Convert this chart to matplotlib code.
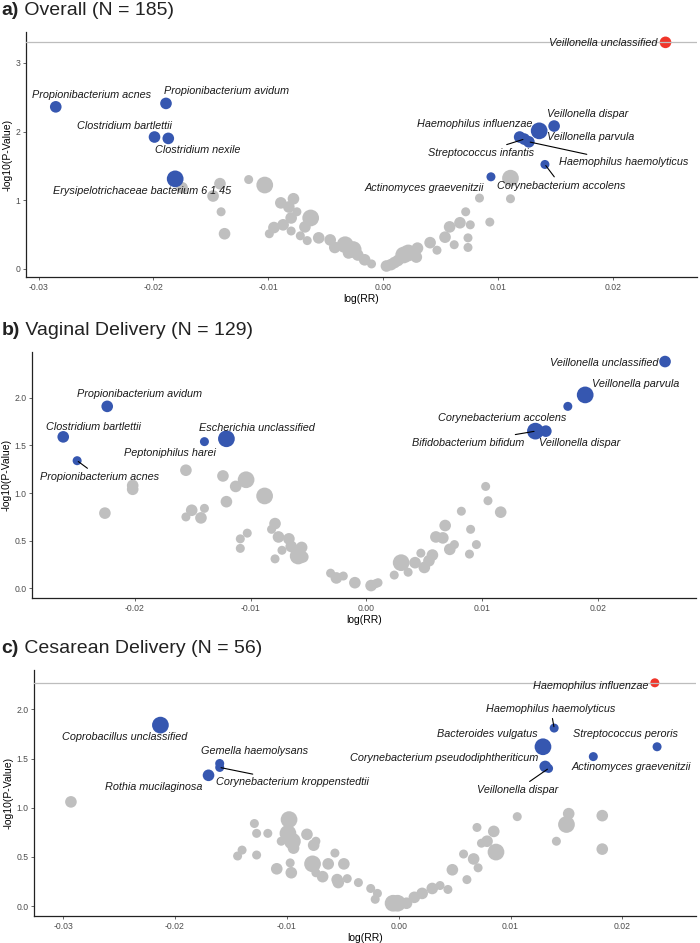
import matplotlib
matplotlib.use('Agg')
import matplotlib.pyplot as plt
from matplotlib.ticker import FormatStrFormatter

plt.rcParams['font.family'] = ['Liberation Sans', 'DejaVu Sans']

# ---- a) Overall ----
a_gray_x = [-0.0175, -0.0142, -0.0148, -0.0117, -0.0103, -0.0141, -0.0138, -0.0089, -0.0078, -0.0082,
            -0.0075, -0.0080, -0.0063, -0.0068, -0.0087, -0.0095, -0.0099, -0.0080, -0.0072, -0.0066,
            -0.0056, -0.0046, -0.0033, -0.0042, -0.0030, -0.0022, -0.0016, -0.0010, 0.0007, 0.0010,
            0.0022, 0.0029, 0.0030, 0.0041, 0.0047, 0.0054, 0.0058, 0.0067, 0.0062, 0.0072,
            0.0076, 0.0074, 0.0074, 0.0084, 0.0093, 0.0111, 0.0111, -0.0026, 0.0013, 0.0018, 0.0003]
a_gray_y = [1.18, 1.24, 1.06, 1.30, 1.22, 0.83, 0.51, 0.96, 1.02, 0.90,
            0.83, 0.74, 0.74, 0.61, 0.64, 0.60, 0.51, 0.55, 0.48, 0.41,
            0.45, 0.42, 0.35, 0.31, 0.23, 0.20, 0.13, 0.07, 0.06, 0.09,
            0.23, 0.17, 0.30, 0.38, 0.27, 0.46, 0.61, 0.67, 0.35, 0.83,
            0.64, 0.45, 0.31, 1.03, 0.68, 1.32, 1.02, 0.28, 0.12, 0.20, 0.04]
a_gray_n = [2, 2, 2, 1, 3, 1, 2, 2, 2, 2,
            1, 2, 3, 2, 2, 2, 1, 1, 1, 1,
            2, 2, 3, 2, 2, 2, 2, 1, 2, 2,
            3, 2, 2, 2, 1, 2, 2, 2, 1, 1,
            1, 1, 1, 1, 1, 3, 1, 3, 2, 3, 2]
a_names = ['Propionibacterium acnes', 'Propionibacterium avidum', 'Clostridium bartlettii',
           'Clostridium nexile', 'Erysipelotrichaceae bacterium 6 1 45', 'Veillonella unclassified',
           'Veillonella dispar', 'Veillonella parvula', 'Haemophilus influenzae',
           'Streptococcus infantis', 'Haemophilus haemolyticus', 'Corynebacterium accolens',
           'Actinomyces graevenitzii']
a_x = [-0.0285, -0.0189, -0.0199, -0.0187, -0.0181, 0.0246, 0.0149, 0.0136, 0.0119, 0.0123, 0.0127, 0.0141, 0.0094]
a_y = [2.36, 2.41, 1.92, 1.90, 1.31, 3.30, 2.08, 2.01, 1.92, 1.89, 1.85, 1.52, 1.34]
a_n = [2, 2, 2, 2, 3, 2, 2, 3, 2, 2, 2, 1, 1]
a_fdr = ['Veillonella unclassified']
a_thresh = 3.30

# ---- b) Vaginal delivery ----
b_gray_x = [-0.0202, -0.0202, -0.0226, -0.0156, -0.0124, -0.0104, -0.0113, -0.0088, -0.0121, -0.0151,
            -0.0140, -0.0156, -0.0143, -0.0079, -0.0082, -0.0103, -0.0109, -0.0109, -0.0076, -0.0067,
            -0.0065, -0.0056, -0.0073, -0.0059, -0.0055, -0.0079, -0.0031, -0.0026, -0.0020, -0.0010,
            0.0004, 0.0008, 0.0010, 0.0024, 0.0030, 0.0036, 0.0042, 0.0047, 0.0050, 0.0054,
            0.0057, 0.0060, 0.0066, 0.0068, 0.0072, 0.0076, 0.0082, 0.0090, 0.0095, 0.0089,
            0.0103, 0.0105, 0.0116]
b_gray_y = [1.08, 1.04, 0.79, 1.24, 1.18, 1.14, 1.07, 0.97, 0.91, 0.82,
            0.84, 0.75, 0.74, 0.68, 0.62, 0.58, 0.52, 0.42, 0.54, 0.52,
            0.44, 0.43, 0.40, 0.34, 0.33, 0.31, 0.16, 0.11, 0.13, 0.06,
            0.03, 0.05, 0.06, 0.14, 0.27, 0.17, 0.27, 0.37, 0.22, 0.29,
            0.35, 0.54, 0.53, 0.66, 0.41, 0.46, 0.81, 0.62, 0.46, 0.36,
            1.07, 0.92, 0.80]
b_gray_n = [2, 2, 2, 2, 2, 3, 2, 3, 2, 2,
            1, 1, 2, 2, 1, 1, 1, 1, 2, 2,
            2, 2, 1, 3, 2, 1, 1, 2, 1, 2,
            2, 1, 1, 1, 3, 1, 2, 1, 2, 2,
            2, 2, 2, 2, 2, 1, 1, 1, 1, 1,
            1, 1, 2]
b_names = ['Propionibacterium avidum', 'Clostridium bartlettii', 'Propionibacterium acnes',
           'Peptoniphilus harei', 'Escherichia unclassified', 'Veillonella unclassified',
           'Veillonella parvula', 'Corynebacterium accolens', 'Bifidobacterium bifidum',
           'Veillonella dispar']
b_x = [-0.0224, -0.0262, -0.0250, -0.0140, -0.0121, 0.0258, 0.0189, 0.0174, 0.0146, 0.0155]
b_y = [1.91, 1.59, 1.34, 1.54, 1.57, 2.38, 2.03, 1.91, 1.65, 1.65]
b_n = [2, 2, 1, 1, 3, 2, 3, 1, 3, 2]
b_fdr = []

# ---- c) Cesarean delivery ----
c_gray_x = [-0.0293, -0.0129, -0.0127, -0.0117, -0.0098, -0.0099, -0.0095, -0.0094, -0.0105, -0.0082,
            -0.0074, -0.0076, -0.0140, -0.0144, -0.0127, -0.0109, -0.0097, -0.0096, -0.0077, -0.0074,
            -0.0068, -0.0063, -0.0057, -0.0049, -0.0055, -0.0054, -0.0046, -0.0036, -0.0025, -0.0019,
            -0.0021, -0.0005, -0.0001, 0.0007, 0.0014, 0.0021, 0.0030, 0.0037, 0.0044, 0.0048,
            0.0061, 0.0058, 0.0067, 0.0071, 0.0070, 0.0085, 0.0074, 0.0079, 0.0087, 0.0106,
            0.0141, 0.0150, 0.0152, 0.0182, 0.0182]
c_gray_y = [1.06, 0.84, 0.74, 0.74, 0.88, 0.74, 0.66, 0.59, 0.66, 0.73,
            0.66, 0.62, 0.57, 0.51, 0.52, 0.38, 0.44, 0.34, 0.43, 0.34,
            0.30, 0.43, 0.54, 0.43, 0.27, 0.24, 0.28, 0.24, 0.18, 0.13,
            0.07, 0.03, 0.03, 0.03, 0.09, 0.13, 0.18, 0.21, 0.17, 0.37,
            0.27, 0.53, 0.48, 0.39, 0.80, 0.76, 0.64, 0.66, 0.55, 0.91,
            0.66, 0.83, 0.94, 0.92, 0.58]
c_gray_n = [2, 1, 1, 1, 3, 3, 3, 2, 1, 2,
            1, 2, 1, 1, 1, 2, 1, 2, 3, 1,
            2, 2, 1, 2, 2, 2, 1, 1, 1, 1,
            1, 3, 3, 2, 2, 2, 2, 1, 1, 2,
            1, 1, 2, 1, 1, 2, 1, 2, 3, 1,
            1, 3, 2, 2, 2]
c_names = ['Coprobacillus unclassified', 'Gemella haemolysans', 'Corynebacterium kroppenstedtii',
           'Rothia mucilaginosa', 'Haemophilus influenzae', 'Haemophilus haemolyticus',
           'Bacteroides vulgatus', 'Streptococcus peroris', 'Actinomyces graevenitzii',
           'Corynebacterium pseudodiphtheriticum', 'Veillonella dispar']
c_x = [-0.0213, -0.0160, -0.0160, -0.0170, 0.0229, 0.0139, 0.0129, 0.0231, 0.0174, 0.0131, 0.0134]
c_y = [1.84, 1.45, 1.41, 1.33, 2.27, 1.81, 1.62, 1.62, 1.52, 1.42, 1.40]
c_n = [3, 1, 1, 2, 1, 1, 3, 1, 1, 2, 1]
c_fdr = ['Haemophilus influenzae']
c_thresh = 2.27

# label placement: name -> (x, y, ha, leader line)
a_lab = {
    'Propionibacterium acnes': (-0.0254, 2.53, 'center', False),
    'Propionibacterium avidum': (-0.0136, 2.59, 'center', False),
    'Clostridium bartlettii': (-0.0225, 2.08, 'center', False),
    'Clostridium nexile': (-0.0161, 1.73, 'center', False),
    'Erysipelotrichaceae bacterium 6 1 45': (-0.0210, 1.14, 'center', False),
    'Veillonella unclassified': (0.0239, 3.29, 'right', False),
    'Veillonella dispar': (0.0178, 2.26, 'center', False),
    'Haemophilus influenzae': (0.0080, 2.11, 'center', False),
    'Veillonella parvula': (0.0181, 1.92, 'center', False),
    'Streptococcus infantis': (0.0085, 1.69, 'center', True),
    'Haemophilus haemolyticus': (0.0210, 1.55, 'center', True),
    'Actinomyces graevenitzii': (0.0036, 1.18, 'center', False),
    'Corynebacterium accolens': (0.0155, 1.21, 'center', True),
}
b_lab = {
    'Propionibacterium avidum': (-0.0196, 2.04, 'center', False),
    'Clostridium bartlettii': (-0.0236, 1.69, 'center', False),
    'Escherichia unclassified': (-0.0095, 1.68, 'center', False),
    'Peptoniphilus harei': (-0.0170, 1.42, 'center', False),
    'Propionibacterium acnes': (-0.0231, 1.17, 'center', True),
    'Veillonella unclassified': (0.0252, 2.37, 'right', False),
    'Veillonella parvula': (0.0233, 2.14, 'center', False),
    'Corynebacterium accolens': (0.0117, 1.79, 'center', False),
    'Bifidobacterium bifidum': (0.0088, 1.53, 'center', True),
    'Veillonella dispar': (0.0184, 1.53, 'center', False),
}
c_lab = {
    'Coprobacillus unclassified': (-0.0245, 1.72, 'center', False),
    'Gemella haemolysans': (-0.0129, 1.58, 'center', False),
    'Corynebacterium kroppenstedtii': (-0.0095, 1.26, 'center', True),
    'Rothia mucilaginosa': (-0.0219, 1.21, 'center', False),
    'Haemophilus influenzae': (0.0172, 2.24, 'center', False),
    'Haemophilus haemolyticus': (0.0136, 2.00, 'center', True),
    'Bacteroides vulgatus': (0.0079, 1.75, 'center', False),
    'Streptococcus peroris': (0.0203, 1.75, 'center', False),
    'Corynebacterium pseudodiphtheriticum': (0.0041, 1.51, 'center', False),
    'Actinomyces graevenitzii': (0.0208, 1.41, 'center', False),
    'Veillonella dispar': (0.0106, 1.18, 'center', True),
}

GRAY = '#bfbfbf'
BLUE = '#3657b0'
RED = '#f0352a'
SIZES = {1: 42, 2: 70, 3: 145}

fig = plt.figure(figsize=(7, 9.43), dpi=100)


def panel(rect, letter, title, gx, gy, gn, names, sx, sy, sn, fdr, labels,
          xlim, ylim, xticks, yticks, yfmt, thresh=None):
    ax = fig.add_axes(rect)
    ax.scatter(gx, gy, s=[SIZES[k] for k in gn], color=GRAY, lw=0, zorder=2)
    cols = [RED if n in fdr else BLUE for n in names]
    ax.scatter(sx, sy, s=[SIZES[k] for k in sn], c=cols, lw=0, zorder=3)
    if thresh is not None:
        ax.axhline(thresh, color='#bdbdbd', lw=0.9, zorder=4)
    for n, x, y in zip(names, sx, sy):
        lx, ly, ha, line = labels[n]
        if line:
            ax.annotate(n, xy=(x, y), xytext=(lx, ly), ha=ha, va='center', fontsize=7.8,
                        style='italic', color='#1a1a1a', zorder=5,
                        arrowprops=dict(arrowstyle='-', color='black', lw=0.8,
                                        shrinkA=1, shrinkB=1))
        else:
            ax.text(lx, ly, n, ha=ha, va='center', fontsize=7.8, style='italic',
                    color='#1a1a1a', zorder=5)
    ax.set_xlim(*xlim)
    ax.set_ylim(*ylim)
    ax.set_xticks(xticks)
    ax.set_yticks(yticks)
    ax.xaxis.set_major_formatter(FormatStrFormatter('%.2f'))
    ax.yaxis.set_major_formatter(FormatStrFormatter(yfmt))
    ax.tick_params(labelsize=6.2, colors='#4d4d4d', length=2.5, width=0.6, pad=1.5)
    for s in ['top', 'right']:
        ax.spines[s].set_visible(False)
    for s in ['left', 'bottom']:
        ax.spines[s].set_linewidth(0.9)
        ax.spines[s].set_color('#222222')
    ax.set_xlabel('log(RR)', fontsize=7.5, labelpad=2)
    ax.set_ylabel('-log10(P-Value)', fontsize=7.5, labelpad=2)
    # title, bold letter then plain text
    top = rect[1] + rect[3]
    t = fig.text(0.002, top + 22 / 943, letter, fontsize=14, weight='bold', va='center',
                 color='#222222')
    ax.annotate(' ' + title, xy=(1, 0), xycoords=t, va='bottom', fontsize=14,
                color='#222222', annotation_clip=False)
    return ax


panel([0.037, 0.7063, 0.958, 0.2597], 'a)', 'Overall (N = 185)',
      a_gray_x, a_gray_y, a_gray_n, a_names, a_x, a_y, a_n, a_fdr, a_lab,
      (-0.0311, 0.0273), (-0.12, 3.45), [-0.03, -0.02, -0.01, 0.0, 0.01, 0.02],
      [0, 1, 2, 3], '%d', a_thresh)

panel([0.0457, 0.3659, 0.949, 0.2608], 'b)', 'Vaginal Delivery (N = 129)',
      b_gray_x, b_gray_y, b_gray_n, b_names, b_x, b_y, b_n, b_fdr, b_lab,
      (-0.0289, 0.0285), (-0.10, 2.48), [-0.02, -0.01, 0.0, 0.01, 0.02],
      [0.0, 0.5, 1.0, 1.5, 2.0], '%.1f')

panel([0.0486, 0.0286, 0.946, 0.2609], 'c)', 'Cesarean Delivery (N = 56)',
      c_gray_x, c_gray_y, c_gray_n, c_names, c_x, c_y, c_n, c_fdr, c_lab,
      (-0.0326, 0.0266), (-0.10, 2.40), [-0.03, -0.02, -0.01, 0.0, 0.01, 0.02],
      [0.0, 0.5, 1.0, 1.5, 2.0], '%.1f', c_thresh)

fig.savefig('out.png', dpi=100)
